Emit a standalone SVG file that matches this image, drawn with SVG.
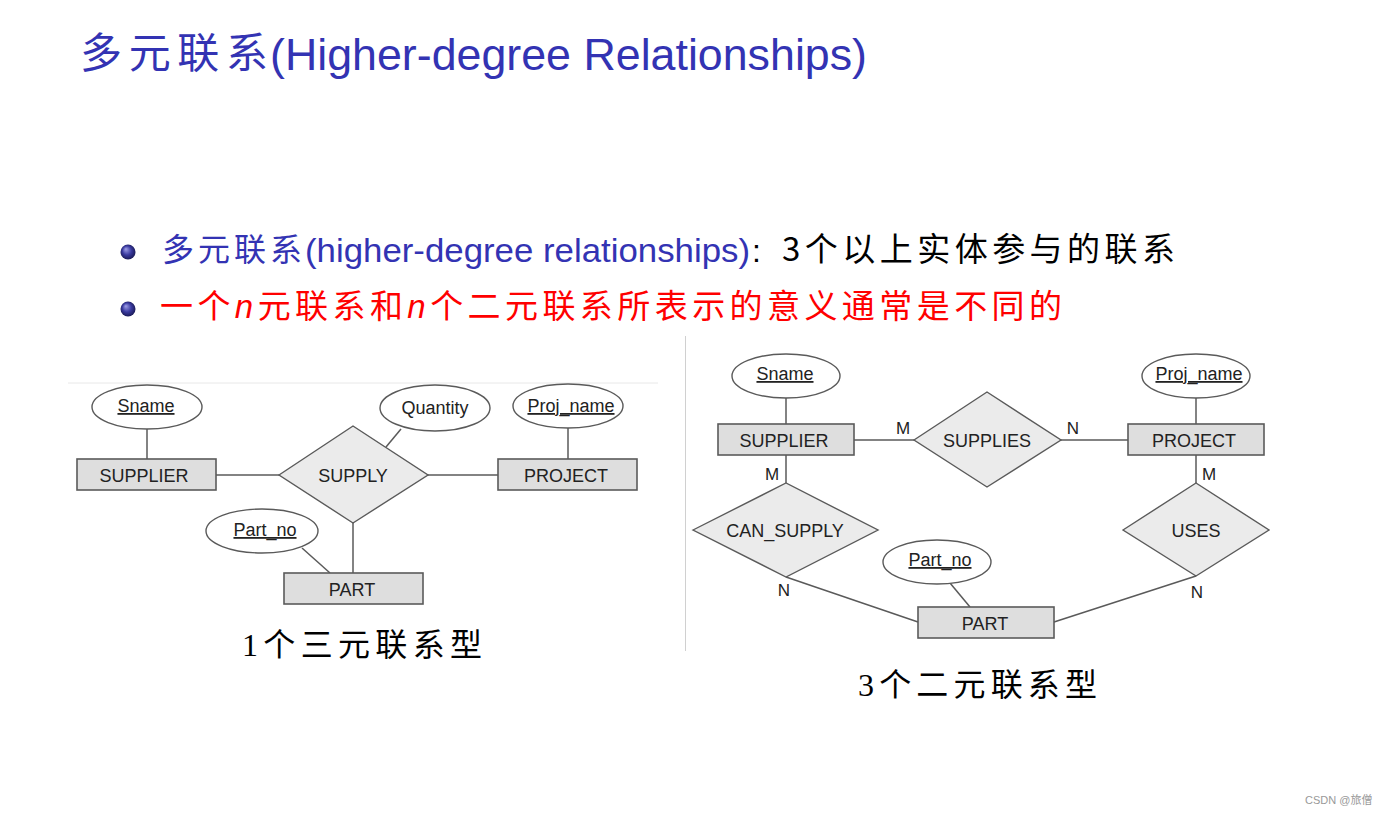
<svg xmlns="http://www.w3.org/2000/svg" width="1387" height="814" viewBox="0 0 1387 814">
<defs>
<radialGradient id="ball" cx="0.5" cy="0.5" r="0.6" fx="0.35" fy="0.3">
<stop offset="0" stop-color="#a0a0e8"/>
<stop offset="0.5" stop-color="#3a3aa0"/>
<stop offset="1" stop-color="#101040"/>
</radialGradient>
<style>
.ent{fill:#dedede;stroke:#5a5a5a;stroke-width:1.6}
.rel{fill:#ebebeb;stroke:#5a5a5a;stroke-width:1.4}
.att{fill:#ffffff;stroke:#5a5a5a;stroke-width:1.4}
.ln{stroke:#5a5a5a;stroke-width:1.5;fill:none}
.lbl{font-family:"Liberation Sans",Arial,sans-serif;font-size:18px;fill:#222;text-anchor:middle}
.key{text-decoration:underline}
.card{font-family:"Liberation Sans",Arial,sans-serif;font-size:17px;fill:#222;text-anchor:middle}
.cjk{font-family:"Noto Sans CJK SC",sans-serif}
.cap{font-family:"Liberation Serif","Noto Sans CJK SC",serif;font-size:32px;fill:#000}
</style>
</defs>
<rect width="1387" height="814" fill="#ffffff"/>

<g id="title">
<text x="80" y="68" class="cjk" font-size="42" fill="#3333b3" textLength="188" lengthAdjust="spacing">多元联系</text>
<text x="270" y="70" font-family="Liberation Sans,Arial,sans-serif" font-size="45" fill="#3333b3" textLength="597" lengthAdjust="spacingAndGlyphs">(Higher-degree Relationships)</text>
</g>

<g id="bullet1">
<circle cx="128" cy="252" r="7.5" fill="url(#ball)"/>
<text x="162" y="261" class="cjk" font-size="32" fill="#3333b3" textLength="140" lengthAdjust="spacing">多元联系</text>
<text x="305" y="262" font-family="Liberation Sans,Arial,sans-serif" font-size="34" fill="#3333b3" textLength="445" lengthAdjust="spacingAndGlyphs">(higher-degree relationships)</text>
<text x="752" y="262" font-family="Liberation Sans,Arial,sans-serif" font-size="32" fill="#000">:</text>
<text x="782" y="261" class="cjk" font-size="33" fill="#000" textLength="393" lengthAdjust="spacing">3个以上实体参与的联系</text>
</g>

<g id="bullet2">
<circle cx="128" cy="309" r="7.5" fill="url(#ball)"/>
<text x="160" y="318" class="cjk" font-size="33" fill="#ff0000" textLength="902" lengthAdjust="spacing">一个<tspan font-family="Liberation Sans,Arial,sans-serif" font-style="italic">n</tspan>元联系和<tspan font-family="Liberation Sans,Arial,sans-serif" font-style="italic">n</tspan>个二元联系所表示的意义通常是不同的</text>
</g>

<g id="dividers">
<line x1="68" y1="383" x2="658" y2="383" stroke="#e8e8e8" stroke-width="1"/>
<line x1="685.5" y1="336" x2="685.5" y2="651" stroke="#d0d0d0" stroke-width="1"/>
</g>

<g id="connectors">
<!-- left diagram -->
<line class="ln" x1="147" y1="429" x2="147" y2="459"/>
<line class="ln" x1="216" y1="475" x2="279" y2="475"/>
<line class="ln" x1="428" y1="475" x2="498" y2="475"/>
<line class="ln" x1="568" y1="428" x2="568" y2="459"/>
<line class="ln" x1="386" y1="447" x2="401" y2="429"/>
<line class="ln" x1="353" y1="523" x2="353" y2="573"/>
<line class="ln" x1="302" y1="548" x2="330" y2="573"/>
<!-- right diagram -->
<line class="ln" x1="786" y1="398" x2="786" y2="424"/>
<line class="ln" x1="854" y1="440" x2="914" y2="440"/>
<line class="ln" x1="1061" y1="440" x2="1128" y2="440"/>
<line class="ln" x1="1196" y1="398" x2="1196" y2="424"/>
<line class="ln" x1="786" y1="455" x2="786" y2="483"/>
<line class="ln" x1="1196" y1="455" x2="1196" y2="483"/>
<line class="ln" x1="786" y1="577" x2="918" y2="622"/>
<line class="ln" x1="1054" y1="622" x2="1196" y2="576"/>
<line class="ln" x1="950" y1="583" x2="970" y2="607"/>
<text class="card" x="903" y="434">M</text>
<text class="card" x="1073" y="434">N</text>
<text class="card" x="772" y="480">M</text>
<text class="card" x="1209" y="480">M</text>
<text class="card" x="784" y="596">N</text>
<text class="card" x="1197" y="598">N</text>
</g>

<!-- left diagram nodes -->
<g id="l_sname"><ellipse class="att" cx="147" cy="407" rx="55" ry="22"/><text class="lbl key" x="146" y="412">Sname</text></g>
<g id="l_supplier"><rect class="ent" x="77" y="459" width="139" height="31"/><text class="lbl" x="144" y="482">SUPPLIER</text></g>
<g id="l_supply"><polygon class="rel" points="279,475 353,426 428,475 353,523"/><text class="lbl" x="353" y="482">SUPPLY</text></g>
<g id="l_quantity"><ellipse class="att" cx="435" cy="408" rx="55" ry="23"/><text class="lbl" x="435" y="414">Quantity</text></g>
<g id="l_projname"><ellipse class="att" cx="568" cy="406" rx="55" ry="22"/><text class="lbl key" x="571" y="412">Proj_name</text></g>
<g id="l_project"><rect class="ent" x="498" y="459" width="139" height="31"/><text class="lbl" x="566" y="482">PROJECT</text></g>
<g id="l_partno"><ellipse class="att" cx="262" cy="531" rx="56" ry="22"/><text class="lbl key" x="265" y="536">Part_no</text></g>
<g id="l_part"><rect class="ent" x="284" y="573" width="139" height="31"/><text class="lbl" x="352" y="596">PART</text></g>
<g id="l_caption"><text class="cap" x="242" y="656" textLength="240" lengthAdjust="spacing">1个三元联系型</text></g>

<!-- right diagram nodes -->
<g id="r_sname"><ellipse class="att" cx="786" cy="376" rx="54" ry="22"/><text class="lbl key" x="785" y="380">Sname</text></g>
<g id="r_supplier"><rect class="ent" x="718" y="424" width="136" height="31"/><text class="lbl" x="784" y="447">SUPPLIER</text></g>
<g id="r_supplies"><polygon class="rel" points="914,440 987,392 1061,440 987,487"/><text class="lbl" x="987" y="447">SUPPLIES</text></g>
<g id="r_projname"><ellipse class="att" cx="1196" cy="376" rx="54" ry="22"/><text class="lbl key" x="1199" y="380">Proj_name</text></g>
<g id="r_project"><rect class="ent" x="1128" y="424" width="136" height="31"/><text class="lbl" x="1194" y="447">PROJECT</text></g>
<g id="r_cansupply"><polygon class="rel" points="693,530 786,483 878,530 786,577"/><text class="lbl" x="785" y="537">CAN_SUPPLY</text></g>
<g id="r_uses"><polygon class="rel" points="1123,530 1196,483 1269,530 1196,576"/><text class="lbl" x="1196" y="537">USES</text></g>
<g id="r_partno"><ellipse class="att" cx="937" cy="562" rx="54" ry="22"/><text class="lbl key" x="940" y="566">Part_no</text></g>
<g id="r_part"><rect class="ent" x="918" y="607" width="136" height="31"/><text class="lbl" x="985" y="630">PART</text></g>
<g id="r_caption"><text class="cap" x="858" y="696" textLength="239" lengthAdjust="spacing">3个二元联系型</text></g>

<g id="watermark"><text x="1305" y="804" font-family="Liberation Sans,'Noto Sans CJK SC',sans-serif" font-size="11" fill="#999">CSDN @旅僧</text></g>
</svg>
